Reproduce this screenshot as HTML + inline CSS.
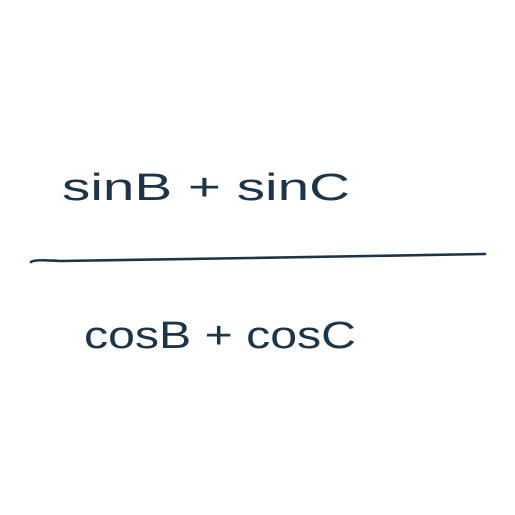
<!DOCTYPE html>
<html><head><meta charset="utf-8"><style>
html,body{margin:0;padding:0;background:#fff;}
svg{display:block;}
text{font-family:"Liberation Sans",sans-serif;fill:#1e3549;}
</style></head><body>
<svg width="515" height="515" viewBox="0 0 515 515">
<rect width="515" height="515" fill="#fff"/>
<text x="62" y="200" font-size="38" textLength="288" lengthAdjust="spacingAndGlyphs">sinB + sinC</text>
<path d="M31 262 Q34 259 60 261 L250 258 L485 254" stroke="#1e3549" stroke-width="2.6" fill="none" stroke-linecap="round"/>
<text x="84" y="348" font-size="38" textLength="272" lengthAdjust="spacingAndGlyphs">cosB + cosC</text>
</svg>
</body></html>
